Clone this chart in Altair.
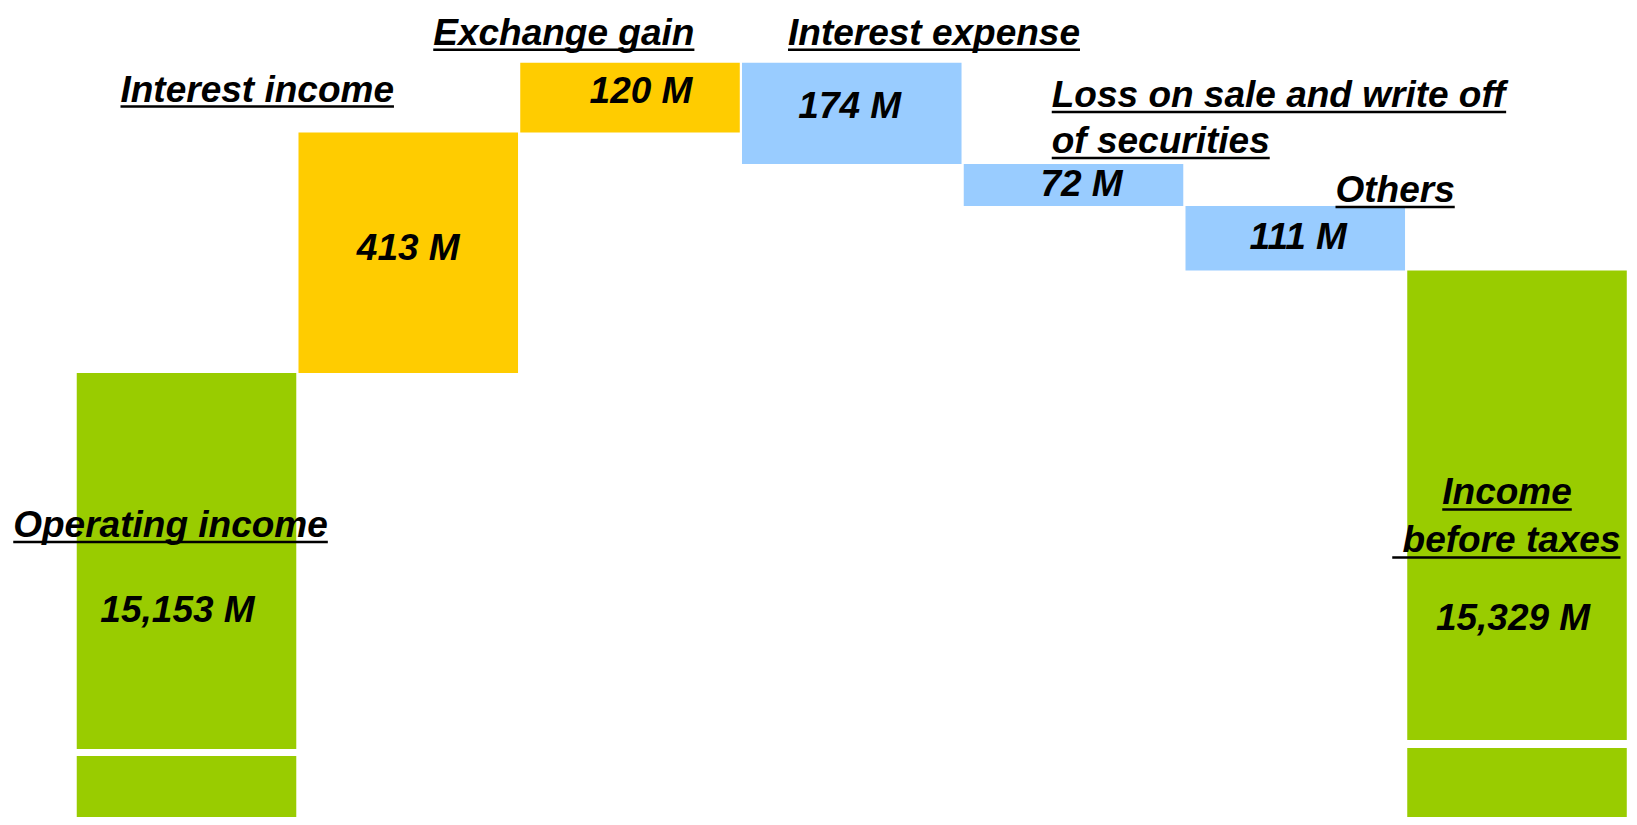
import altair as alt
import pandas as pd

# ---------------- data ----------------
categories = [
    "Operating income",
    "Interest income",
    "Exchange gain",
    "Interest expense",
    "Loss on sale and write off of securities",
    "Others",
    "Income before taxes",
]
amounts = [15153, 413, 120, -174, -72, -111, 15329]  # million
kinds = ["total", "increase", "increase", "decrease", "decrease", "decrease", "total"]
value_labels = ["15,153 M", "413 M", "120 M", "174 M", "72 M", "111 M", "15,329 M"]
label_lines = [
    ["Operating income"],
    ["Interest income"],
    ["Exchange gain"],
    ["Interest expense"],
    ["Loss on sale and write off", "of securities"],
    ["Others"],
    ["Income", " before taxes"],
]

# ---------------- layout / style ----------------
W, H = 1621, 809
X_DOMAIN = [-0.31, 7.0]
Y_DOMAIN = [14390, 15780]
COLORS = {"total": "#99CC00", "increase": "#FFCC00", "decrease": "#99CCFF"}
FONT = "Liberation Sans"
FS = 37
BAR_GAP = 0.01
LABEL_DX = [[-63.5], [-178], [-87], [46], [88, 88], [150], [35, -15]]     # px from bar left
LABEL_DY = [[164], [-31], [-18], [-18], [-57, -11], [-4], [234, 282]]      # px from bar top (baseline)
UNDERLINE_DY = 5
VALUE_DX = [-9, 0, 11, -2, 8, 3, -4]
VALUE_DY = [238, -4, -6, -6, 0, 0, 349]   # total bars: px below top; others: px shift from bar middle
BREAK_PX = {0: (741, 748), 6: (732, 740)}

kx = W / (X_DOMAIN[1] - X_DOMAIN[0])
ky = H / (Y_DOMAIN[1] - Y_DOMAIN[0])

# Arial/Liberation Sans Bold advance widths (per 1000 em)
CW = {" ": 278, "O": 778, "I": 278, "E": 667, "L": 611, "a": 556, "b": 611, "c": 556,
      "d": 611, "e": 556, "f": 333, "g": 611, "h": 611, "i": 278, "l": 278, "m": 889,
      "n": 611, "o": 611, "p": 611, "r": 389, "s": 556, "t": 333, "u": 611, "w": 778,
      "x": 556, "y": 556}


def text_width(s):
    return sum(CW.get(ch, 556) for ch in s) * FS / 1000.0


# ---------------- waterfall geometry ----------------
rows = []
running = 0
for i, (c, a, k, vl) in enumerate(zip(categories, amounts, kinds, value_labels)):
    if k == "total":
        lo, hi = 0, a
        running = a
    else:
        lo, hi = running, running + a
        running = running + a
    rows.append(dict(cat=c, kind=k, x=i, x2=i + 1 - BAR_GAP,
                     lo=min(lo, hi), hi=max(lo, hi), vlabel=vl))
bars = pd.DataFrame(rows)

# category labels + underlines
txt_rows, ul_rows = [], []
for i, lines in enumerate(label_lines):
    top = bars.loc[i, "hi"]
    for j, line in enumerate(lines):
        x0 = i + LABEL_DX[i][j] / kx
        base = top - LABEL_DY[i][j] / ky
        lead = len(line) - len(line.lstrip(" "))
        txt_rows.append(dict(x=x0 + text_width(" " * lead) / kx, y=base, text=line.strip()))
        ul_rows.append(dict(x=x0, x2=x0 + text_width(line) / kx,
                            y=base - UNDERLINE_DY / ky))
labels = pd.DataFrame(txt_rows)
underlines = pd.DataFrame(ul_rows)

# value labels
val_rows = []
for i, r in bars.iterrows():
    if r["kind"] == "total":
        y = r["hi"] - VALUE_DY[i] / ky
    else:
        y = (r["lo"] + r["hi"]) / 2 - VALUE_DY[i] / ky
    val_rows.append(dict(x=i + (1 - BAR_GAP) / 2 + VALUE_DX[i] / kx, y=y, text=r["vlabel"]))
values = pd.DataFrame(val_rows)

# axis-break bands
brk = pd.DataFrame([
    dict(x=i - 0.01, x2=i + 1.0, lo=Y_DOMAIN[1] - b / ky, hi=Y_DOMAIN[1] - a / ky)
    for i, (a, b) in BREAK_PX.items()
])

xs = alt.Scale(domain=X_DOMAIN, nice=False, zero=False)
ys = alt.Scale(domain=Y_DOMAIN, nice=False, zero=False)

bar_layer = alt.Chart(bars).mark_rect(clip=True).encode(
    x=alt.X("x:Q", scale=xs, axis=None),
    x2="x2:Q",
    y=alt.Y("lo:Q", scale=ys, axis=None),
    y2="hi:Q",
    color=alt.Color("kind:N", scale=alt.Scale(domain=list(COLORS.keys()),
                                              range=list(COLORS.values())), legend=None),
)

break_layer = alt.Chart(brk).mark_rect(color="white", clip=True).encode(
    x=alt.X("x:Q", scale=xs, axis=None), x2="x2:Q",
    y=alt.Y("lo:Q", scale=ys, axis=None), y2="hi:Q",
)

label_layer = alt.Chart(labels).mark_text(
    align="left", baseline="alphabetic", font=FONT, fontSize=FS,
    fontStyle="italic", fontWeight="bold", color="black",
).encode(
    x=alt.X("x:Q", scale=xs, axis=None),
    y=alt.Y("y:Q", scale=ys, axis=None),
    text="text:N",
)

underline_layer = alt.Chart(underlines).mark_rule(color="black", strokeWidth=2.5).encode(
    x=alt.X("x:Q", scale=xs, axis=None), x2="x2:Q",
    y=alt.Y("y:Q", scale=ys, axis=None),
)

value_layer = alt.Chart(values).mark_text(
    align="center", baseline="middle", font=FONT, fontSize=FS,
    fontStyle="italic", fontWeight="bold", color="black",
).encode(
    x=alt.X("x:Q", scale=xs, axis=None),
    y=alt.Y("y:Q", scale=ys, axis=None),
    text="text:N",
)

chart = alt.layer(bar_layer, break_layer, label_layer, underline_layer, value_layer).properties(
    width=W, height=H, padding=0,
    autosize=alt.AutoSizeParams(type="none"),
).configure_view(stroke=None)

chart.save("out.html", embed_options={"renderer": "svg", "actions": False})
